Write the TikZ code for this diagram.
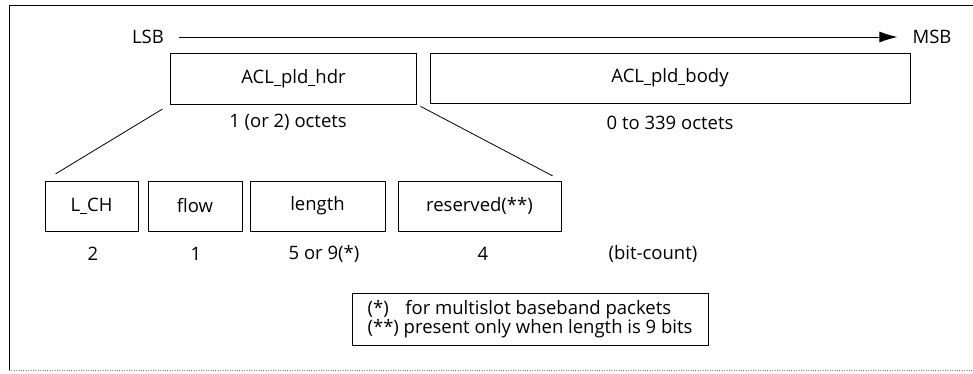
\documentclass[tikz,border=0pt]{standalone}
\usepackage{fontspec}
\setmainfont{Open Sans}
\usetikzlibrary{arrows.meta}

\newcommand{\usc}{\rule[-2.4pt]{0.38em}{0.8pt}}

\begin{document}
\begin{tikzpicture}[x=1pt, y=-1pt,
    every node/.style={font=\fontsize{18.5}{18.5}\selectfont, inner sep=0pt},
    field/.style={draw, line width=0.9pt},
    fan/.style={line width=0.8pt}]

    \useasboundingbox (0,0) rectangle (973,373);

    %frame
    \draw [line width=0.6pt] (973,5) -- (9,5) -- (9,370);
    \draw [dotted, gray] (9,370) -- (973,370);

    %bit order
    \draw (148,37) node (lsb) {LSB};
    \draw (932,37) node (msb) {MSB};
    \draw [line width=0.8pt, -{Latex[length=18pt,width=11pt]}, shorten <=15pt, shorten >=15pt] (lsb.east) -- (msb.west);

    %payload
    \draw (293.5,78.5) node[field, minimum width=246pt, minimum height=51pt] (hdr) {ACL\usc pld\usc hdr};
    \draw (670,78) node[field, minimum width=480pt, minimum height=50pt] (body) {ACL\usc pld\usc body};
    \draw (288,122) node (hdrsize) {1 (or 2) octets};
    \draw (670,123) node (bodysize) {0 to 339 octets};

    %header fields
    \draw (91.5,206) node[field, minimum width=93pt, minimum height=50pt] (lch) {L\usc CH};
    \draw (195,206) node[field, minimum width=94pt, minimum height=50pt] (flow) {flow};
    \draw (317.5,206) node[field, minimum width=135pt, minimum height=50pt] (length) {length};
    \draw (479.5,206) node[field, minimum width=163pt, minimum height=50pt] (reserved) {reserved(**)};

    \draw [fan, shorten <=9pt, shorten >=13pt] (hdr.south west) -- (lch.north west);
    \draw [fan, shorten <=4pt, shorten >=10pt] (hdr.south east) -- (reserved.north east);

    %bit counts
    \draw (93,254) node (nlch) {2};
    \draw (196,254) node (nflow) {1};
    \draw (324,254) node (nlength) {5 or 9(*)};
    \draw (483,254) node (nreserved) {4};
    \draw (653,254) node (bitcount) {(bit-count)};

    %footnotes
    \draw (530,319) node[field, minimum width=356pt, minimum height=52pt, align=left, font=\fontsize{18.5}{16.5}\selectfont] (note)
        {(*)\hspace{0.9em}for multislot baseband packets\\(**) present only when length is 9 bits};

\end{tikzpicture}
\end{document}
